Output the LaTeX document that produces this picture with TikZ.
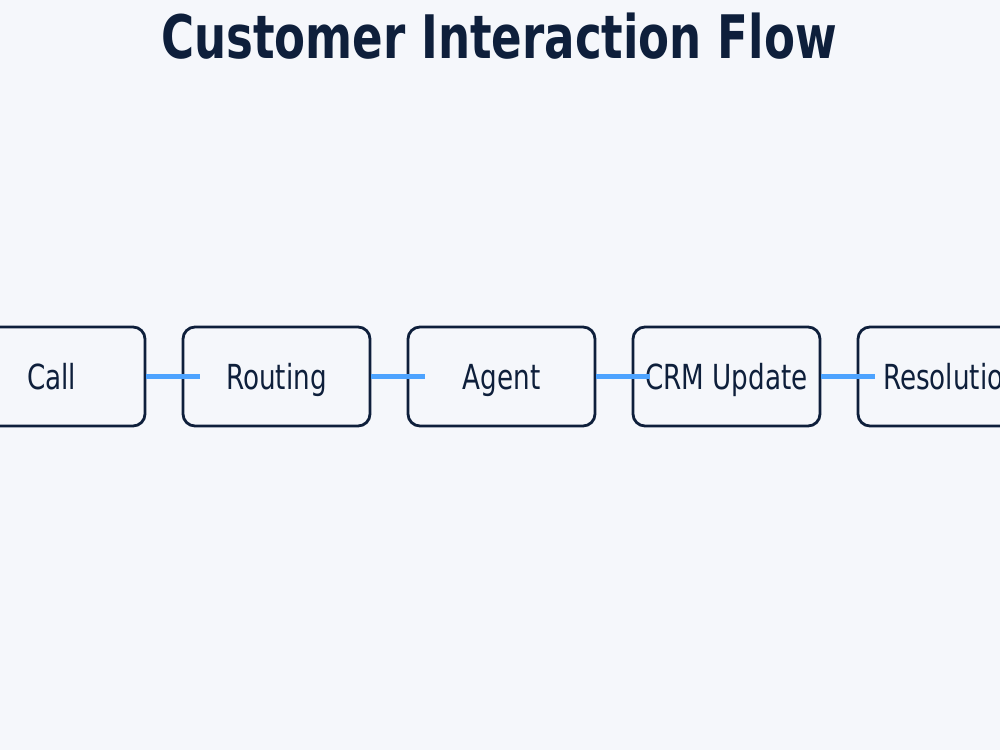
\documentclass[tikz,border=0pt]{standalone}
\usepackage{fontspec}
\setmainfont{DejaVu Sans}
\definecolor{bg}{HTML}{F5F7FB}
\definecolor{ink}{HTML}{0E1F3B}
\definecolor{flow}{HTML}{4DA3FF}
\tikzset{
  stage/.style={draw=ink, line width=2.8pt, rounded corners=12pt, fill=bg,
    minimum width=187pt, minimum height=99pt, inner sep=0pt,
    text=ink, font=\fontsize{34.5}{40}\selectfont, text height=25pt, text depth=0pt},
  link/.style={draw=flow, line width=4.5pt},
  titlestyle/.style={text=ink, font=\fontsize{60}{70}\selectfont\bfseries, inner sep=0pt, anchor=base}
}
\newcommand{\sq}[1]{\scalebox{0.76}[1]{#1}}
\newcommand{\sqt}[1]{\scalebox{0.752}[1]{#1}}
\begin{document}
\begin{tikzpicture}[x=1pt,y=-1pt]
\useasboundingbox[fill=bg] (0,0) rectangle (1000,750);
\node[titlestyle] (title) at (499,58) {\sqt{Customer Interaction Flow}};
\node[stage] (call) at (51.5,376.5) {\sq{Call}};
\node[stage] (routing) at (276.5,376.5) {\sq{Routing}};
\node[stage] (agent) at (501.5,376.5) {\sq{Agent}};
\node[stage] (crm) at (726.5,376.5) {\sq{CRM Update}};
\node[stage] (resolution) at (951.5,376.5) {\sq{Resolution}};
\draw[link] (call.east) -- ([xshift=18pt]routing.west);
\draw[link] (routing.east) -- ([xshift=18pt]agent.west);
\draw[link] (agent.east) -- ([xshift=18pt]crm.west);
\draw[link] (crm.east) -- ([xshift=18pt]resolution.west);
\end{tikzpicture}
\end{document}
